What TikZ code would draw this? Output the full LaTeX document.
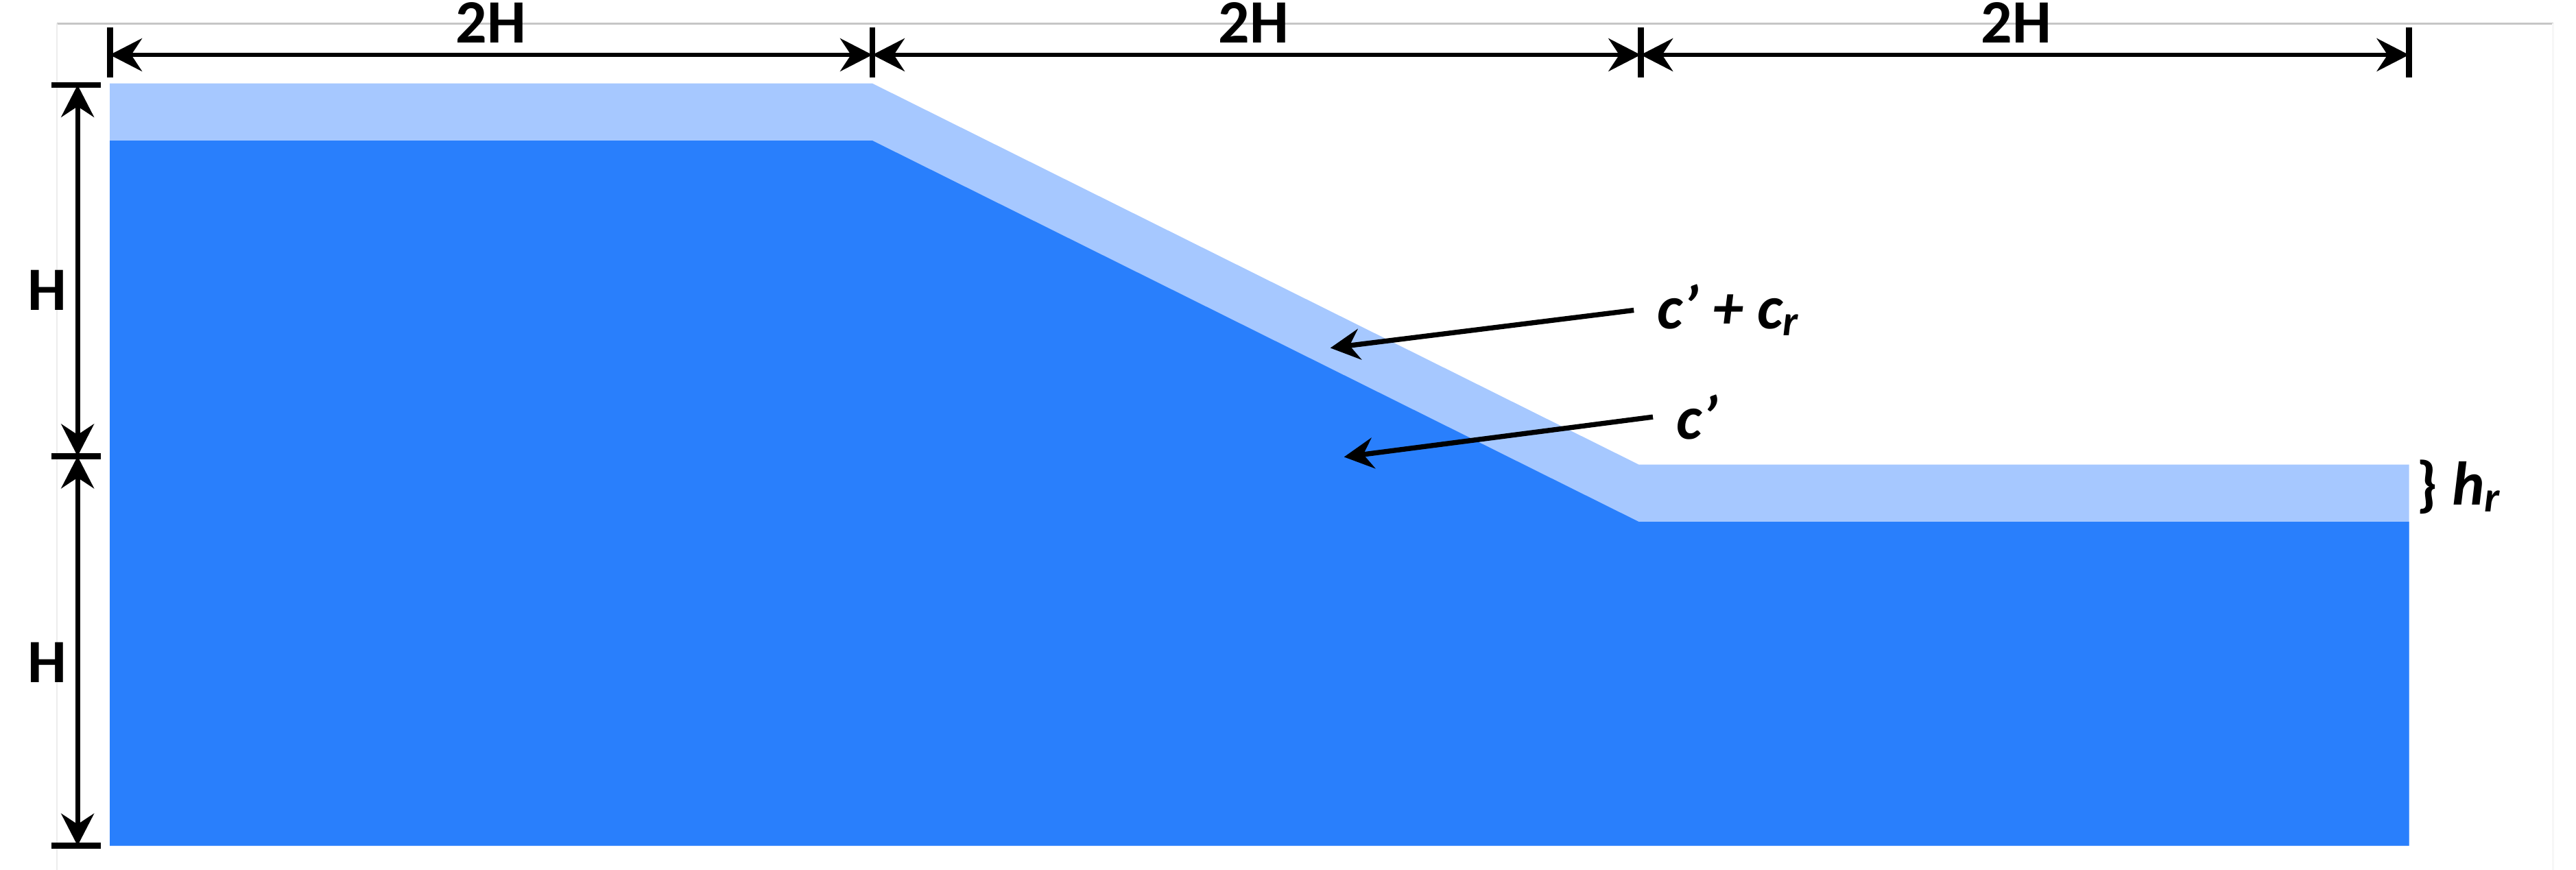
\documentclass[tikz,border=0pt]{standalone}
\usepackage{fontspec}
\setmainfont{Carlito}
\usetikzlibrary{arrows.meta}
\definecolor{soildark}{RGB}{41,127,252}
\definecolor{soillight}{RGB}{166,200,255}

\begin{document}
\begin{tikzpicture}[x=2cm,y=2cm,
        font=\fontsize{9.2}{11}\selectfont\bfseries,
        dimline/.style={line width=0.7pt,
            {Stealth[length=4.8pt,width=4.9pt,inset=1.6pt]}-{Stealth[length=4.8pt,width=4.9pt,inset=1.6pt]}},
        ptr/.style={line width=0.75pt,-{Stealth[length=4.4pt,width=4.6pt,inset=1.5pt]}},
        tick/.style={line width=0.9pt}
    ]
    \useasboundingbox (-0.288,-0.063) rectangle (6.468,2.219);
    \draw[gray!45,line width=0.25pt] (-0.139,2.157) -- (6.408,2.157);
    \draw[gray!15,line width=0.25pt] (-0.139,2.157) -- (-0.139,-0.063);
    \draw[gray!6,line width=0.25pt] (6.408,2.157) -- (6.408,-0.063);

    % slope with residual layer
    \fill[soillight] (0,0) -- (0,2) -- (2,2) -- (4.01,1) -- (6.03,1) -- (6.03,0) -- cycle;
    \fill[soildark] (0,0) -- (0,1.85) -- (2,1.85) -- (4.01,0.85) -- (6.03,0.85) -- (6.03,0) -- cycle;

    % widths
    \foreach \x/\n in {0/a,2/b,4.015/c,6.03/d} {
        \draw[tick] (\x,2.016) -- (\x,2.147);
        \coordinate (t\n) at (\x,2.075);
    }
    \draw[dimline] (ta) -- (tb);
    \draw[dimline] (tb) -- (tc);
    \draw[dimline] (tc) -- (td);
    \node (wleft) at (1,2.16) {2H};
    \node (wmid) at (3,2.16) {2H};
    \node (wright) at (5,2.16) {2H};

    % heights
    \foreach \y/\n in {1.996/p,1.022/q,0/r} {
        \draw[tick] (-0.153,\y) -- (-0.023,\y);
        \coordinate (l\n) at (-0.0845,\y);
    }
    \draw[dimline] (lp) -- (lq);
    \draw[dimline] (lq) -- (lr);
    \node (hup) at (-0.164,1.457) {H};
    \node (hlow) at (-0.164,0.48) {H};

    % strength labels
    \coordinate (crtip) at (3.201,1.306);
    \coordinate (ctip) at (3.237,1.020);
    \node[anchor=west] (cr) at (3.997,1.405) {\textit{c’ + c\textsubscript{r}}};
    \node[anchor=west] (c) at (4.047,1.125) {\textit{c’}};
    \draw[ptr] (cr.west) -- (crtip);
    \draw[ptr] (c.west) -- (ctip);
    \node[anchor=base west,inner sep=0pt] (hr) at (6.047,0.894) {\} \textit{h\textsubscript{r}}};
\end{tikzpicture}
\end{document}
